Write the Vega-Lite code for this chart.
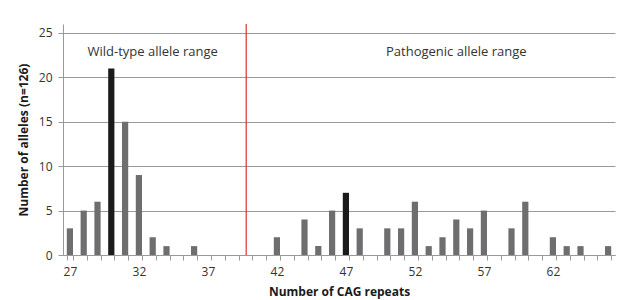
{
  "$schema": "https://vega.github.io/schema/vega-lite/v6.json",
  "width": 552,
  "height": 231,
  "autosize": "none",
  "padding": {"left": 63, "top": 24, "right": 14, "bottom": 45},
  "background": "white",
  "config": {
    "view": {"stroke": null},
    "font": "Open Sans",
    "axis": {"labelFont": "Open Sans", "titleFont": "Open Sans"}
  },
  "data": {
    "values": [
      {"cag": 27, "n": 3, "peak": "no"},
      {"cag": 28, "n": 5, "peak": "no"},
      {"cag": 29, "n": 6, "peak": "no"},
      {"cag": 30, "n": 21, "peak": "yes"},
      {"cag": 31, "n": 15, "peak": "no"},
      {"cag": 32, "n": 9, "peak": "no"},
      {"cag": 33, "n": 2, "peak": "no"},
      {"cag": 34, "n": 1, "peak": "no"},
      {"cag": 35, "n": 0, "peak": "no"},
      {"cag": 36, "n": 1, "peak": "no"},
      {"cag": 37, "n": 0, "peak": "no"},
      {"cag": 38, "n": 0, "peak": "no"},
      {"cag": 39, "n": 0, "peak": "no"},
      {"cag": 40, "n": 0, "peak": "no"},
      {"cag": 41, "n": 0, "peak": "no"},
      {"cag": 42, "n": 2, "peak": "no"},
      {"cag": 43, "n": 0, "peak": "no"},
      {"cag": 44, "n": 4, "peak": "no"},
      {"cag": 45, "n": 1, "peak": "no"},
      {"cag": 46, "n": 5, "peak": "no"},
      {"cag": 47, "n": 7, "peak": "yes"},
      {"cag": 48, "n": 3, "peak": "no"},
      {"cag": 49, "n": 0, "peak": "no"},
      {"cag": 50, "n": 3, "peak": "no"},
      {"cag": 51, "n": 3, "peak": "no"},
      {"cag": 52, "n": 6, "peak": "no"},
      {"cag": 53, "n": 1, "peak": "no"},
      {"cag": 54, "n": 2, "peak": "no"},
      {"cag": 55, "n": 4, "peak": "no"},
      {"cag": 56, "n": 3, "peak": "no"},
      {"cag": 57, "n": 5, "peak": "no"},
      {"cag": 58, "n": 0, "peak": "no"},
      {"cag": 59, "n": 3, "peak": "no"},
      {"cag": 60, "n": 6, "peak": "no"},
      {"cag": 61, "n": 0, "peak": "no"},
      {"cag": 62, "n": 2, "peak": "no"},
      {"cag": 63, "n": 1, "peak": "no"},
      {"cag": 64, "n": 1, "peak": "no"},
      {"cag": 65, "n": 0, "peak": "no"},
      {"cag": 66, "n": 1, "peak": "no"}
    ]
  },
  "layer": [
    {
      "mark": {"type": "bar"},
      "encoding": {
        "x": {
          "field": "cag",
          "type": "ordinal",
          "scale": {"paddingInner": 0.55, "paddingOuter": 0.275},
          "axis": {
            "title": "Number of CAG repeats",
            "titleFontSize": 12,
            "titleFontWeight": "bold",
            "titleColor": "#1a1a1a",
            "titlePadding": 9,
            "labelAngle": 0,
            "labelFontSize": 12,
            "labelColor": "#333333",
            "labelPadding": 6,
            "labelExpr": "(datum.value - 27) % 5 == 0 ? datum.label : ''",
            "tickBand": "extent",
            "tickSize": 5,
            "tickColor": "#999999",
            "domainColor": "#999999",
            "grid": false
          }
        },
        "y": {
          "field": "n",
          "type": "quantitative",
          "scale": {"domain": [0, 25]},
          "axis": {
            "title": "Number of alleles (n=126)",
            "titleFontSize": 12,
            "titleFontWeight": "bold",
            "titleColor": "#1a1a1a",
            "titlePadding": 8,
            "values": [0, 5, 10, 15, 20, 25],
            "labelFontSize": 12,
            "labelColor": "#333333",
            "labelPadding": 6,
            "tickSize": 5,
            "tickColor": "#999999",
            "domainColor": "#999999",
            "grid": true,
            "gridColor": "#999999",
            "gridWidth": 1
          }
        },
        "color": {
          "field": "peak",
          "type": "nominal",
          "scale": {"domain": ["no", "yes"], "range": ["#6e6e70", "#1c1a1b"]},
          "legend": null
        }
      }
    },
    {
      "data": {"values": [{"boundary": 40}]},
      "mark": {"type": "rule", "color": "#e0302a", "strokeWidth": 1.2},
      "encoding": {
        "x": {"field": "boundary", "type": "ordinal", "bandPosition": 0}
      }
    },
    {
      "data": {"values": [
        {"cag": 33, "y": 22.8, "label": "Wild-type allele range"},
        {"cag": 55, "y": 22.8, "label": "Pathogenic allele range"}
      ]},
      "mark": {"type": "text", "fontSize": 13, "color": "#333333", "font": "Open Sans"},
      "encoding": {
        "x": {"field": "cag", "type": "ordinal"},
        "y": {"field": "y", "type": "quantitative"},
        "text": {"field": "label"}
      }
    }
  ]
}
